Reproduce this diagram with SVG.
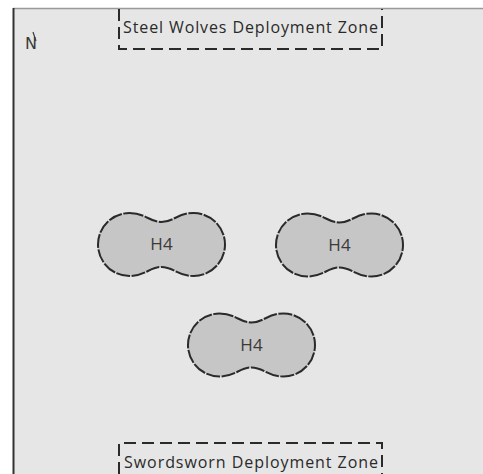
<svg xmlns="http://www.w3.org/2000/svg" width="483" height="474" viewBox="0 0 483 474">
<defs>
<style>
.zone{fill:none;stroke:#2a2a2a;stroke-width:2;stroke-dasharray:12,6}
.ztxt{font-family:"Open Sans","Liberation Sans",sans-serif;font-size:16px;fill:#2a2a2a}
.obj{fill:#c6c6c6;stroke:#2a2a2a;stroke-width:2;stroke-dasharray:14,1.5}
.otxt{font-family:"Open Sans","Liberation Sans",sans-serif;font-size:17px;fill:#3a3a3a;text-anchor:middle}
</style>
<path id="peanut" d="M-32,-31.5 C-16,-31.5 -12,-22.5 0,-22.5 C12,-22.5 16,-31.5 32,-31.5 A31.5,31.5 0 0 1 32,31.5 C16,31.5 12,22.5 0,22.5 C-12,22.5 -16,31.5 -32,31.5 A31.5,31.5 0 0 1 -32,-31.5 Z"/>
</defs>
<rect x="0" y="0" width="483" height="474" fill="#ffffff"/>
<rect x="13" y="8" width="480" height="480" fill="#e6e6e6"/>
<line x1="13" y1="8.5" x2="483" y2="8.5" stroke="#999" stroke-width="1.5"/>
<line x1="13.5" y1="8" x2="13.5" y2="474" stroke="#333" stroke-width="2"/>
<g id="compass">
<text x="31" y="49" font-family="'DejaVu Sans',sans-serif" font-size="16" fill="#3a3a3a" text-anchor="middle">N</text>
<line x1="33" y1="32" x2="36" y2="41" stroke="#3a3a3a" stroke-width="1.2"/>
</g>
<g id="zone-top">
<path class="zone" d="M119,9 L119,49 L382,49 L382,9"/>
<text class="ztxt" x="123" y="33" textLength="255" lengthAdjust="spacing">Steel Wolves Deployment Zone</text>
</g>
<g id="zone-bottom">
<path class="zone" d="M119,474 L119,443 L382,443 L382,474"/>
<text class="ztxt" x="124" y="468" textLength="254" lengthAdjust="spacing">Swordsworn Deployment Zone</text>
</g>
<g id="h4-left">
<use href="#peanut" class="obj" transform="translate(161.5,244.5)"/>
<text class="otxt" x="161.5" y="250">H4</text>
</g>
<g id="h4-right">
<use href="#peanut" class="obj" transform="translate(339.5,245)"/>
<text class="otxt" x="339.5" y="251">H4</text>
</g>
<g id="h4-bottom">
<use href="#peanut" class="obj" transform="translate(251.5,345)"/>
<text class="otxt" x="251.5" y="351">H4</text>
</g>
</svg>
